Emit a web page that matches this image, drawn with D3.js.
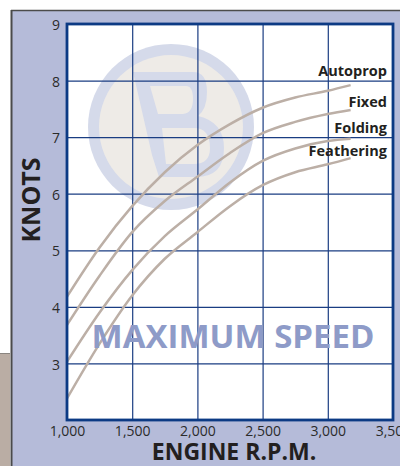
<!DOCTYPE html>
<html>
<head>
<meta charset="utf-8">
<script src="https://cdn.jsdelivr.net/npm/d3@7"></script>
<style>
  body { margin: 0; background: #fff; }
  text { font-family: "Open Sans", "Noto Sans", sans-serif; }
</style>
</head>
<body>
<div id="chart"></div>
<script>
// data
const rpm = [1000, 1250, 1500, 1750, 2000, 2250, 2500, 2750, 3000, 3175];
const autoprop = [4.18, 5.05, 5.78, 6.38, 6.86, 7.23, 7.52, 7.70, 7.82, 7.92];
const fixed = [3.68, 4.55, 5.32, 5.87, 6.30, 6.72, 7.07, 7.27, 7.41, 7.48];
const folding = [3.03, 3.90, 4.65, 5.25, 5.72, 6.20, 6.58, 6.80, 6.93, 6.97];
const feathering = [2.38, 3.35, 4.20, 4.85, 5.32, 5.78, 6.15, 6.38, 6.52, 6.63];
const seriesNames = ["Autoprop", "Fixed", "Folding", "Feathering"];
const xTicks = [1000, 1500, 2000, 2500, 3000, 3500];
const yTicks = [3, 4, 5, 6, 7, 8, 9];

const series = [autoprop, fixed, folding, feathering];

const W = 400, H = 466;
const margin = { top: 24, right: 7, bottom: 46, left: 67 },
  width = W - margin.left - margin.right,
  height = H - margin.top - margin.bottom;

const svg = d3.select("#chart")
  .append("svg")
  .attr("width", W)
  .attr("height", H);

// page frame
svg.append("rect").attr("x", 11).attr("y", 10).attr("width", W - 11).attr("height", H - 10)
  .attr("fill", "#b5bbd9");
svg.append("line").attr("x1", 11).attr("x2", W).attr("y1", 10.5).attr("y2", 10.5)
  .attr("stroke", "#4b4b4b").attr("stroke-width", 1.5);
svg.append("line").attr("x1", 11.5).attr("x2", 11.5).attr("y1", 10).attr("y2", H)
  .attr("stroke", "#4b4b4b").attr("stroke-width", 2);
svg.append("rect").attr("x", 0).attr("y", 354).attr("width", 10).attr("height", H - 354)
  .attr("fill", "#baada4");
svg.append("line").attr("x1", 0).attr("x2", 10).attr("y1", 353.5).attr("y2", 353.5)
  .attr("stroke", "#8a8580").attr("stroke-width", 1);

const chart = svg.append("g")
  .attr("transform", `translate(${margin.left},${margin.top})`);

const x = d3.scaleLinear().domain([1000, 3500]).range([0, width]);
const y = d3.scaleLinear().domain([2, 9]).range([height, 0]);

chart.append("rect").attr("width", width).attr("height", height).attr("fill", "#fff");

// watermark logo
const logo = chart.append("g").attr("transform", `translate(${171 - margin.left},${127 - margin.top})`);
logo.append("circle").attr("r", 83).attr("fill", "#d5daea");
logo.append("circle").attr("r", 72).attr("fill", "#eeebe7");
logo.append("path")
  .attr("fill", "#d5daea")
  .attr("fill-rule", "evenodd")
  .attr("d", "M-38,-55 L22,-55 Q36,-55 36,-35 Q36,-18 27,-11 Q53,-5 53,21 Q53,50 25,50 L-12,50 L-19,28 Z" +
    " M-21,-41 L15,-41 Q22,-41 22,-28 Q22,-14 12,-13 L-13,-13 Z" +
    " M-9,1 L23,1 Q39,1 39,21 Q39,37 23,37 L-5,37 Z");

// gridlines
chart.append("g")
  .attr("transform", `translate(0,${height})`)
  .call(d3.axisBottom(x).tickValues(xTicks.slice(1, -1)).tickSize(-height).tickFormat(""))
  .call(g => g.select(".domain").remove())
  .call(g => g.selectAll("line").attr("stroke", "#1a3d82").attr("stroke-width", 1.2));

chart.append("g")
  .call(d3.axisLeft(y).tickValues(yTicks.slice(0, -1)).tickSize(-width).tickFormat(""))
  .call(g => g.select(".domain").remove())
  .call(g => g.selectAll("line").attr("stroke", "#1a3d82").attr("stroke-width", 1.2));

// curves
const line = d3.line()
  .x((d, i) => x(rpm[i]))
  .y(d => y(d))
  .curve(d3.curveMonotoneX);

chart.selectAll(".curve")
  .data(series)
  .join("path")
  .attr("class", "curve")
  .attr("d", line)
  .attr("fill", "none")
  .attr("stroke", "#bcafa6")
  .attr("stroke-width", 2.5);

// plot border
chart.append("rect").attr("width", width).attr("height", height)
  .attr("fill", "none").attr("stroke", "#0c3a84").attr("stroke-width", 2.8);

// tick labels
const xAxis = chart.append("g")
  .attr("transform", `translate(0,${height})`)
  .call(d3.axisBottom(x).tickValues(xTicks).tickSize(0).tickPadding(6).tickFormat(d3.format(",")));
xAxis.select(".domain").remove();
xAxis.selectAll("text").attr("font-family", "Lato, sans-serif").attr("font-size", 14)
  .attr("fill", "#2b2b2b");

const yAxis = chart.append("g")
  .call(d3.axisLeft(y).tickValues(yTicks).tickSize(0).tickPadding(7).tickFormat(d3.format("d")));
yAxis.select(".domain").remove();
yAxis.selectAll("text").attr("font-family", "Lato, sans-serif").attr("font-size", 14)
  .attr("fill", "#2b2b2b").attr("dy", "0.4em");

// series labels
const labelY = [76, 107, 133, 156];
chart.selectAll(".lab")
  .data(seriesNames)
  .join("text")
  .attr("class", "lab")
  .attr("x", 387 - margin.left)
  .attr("y", (d, i) => labelY[i] - margin.top)
  .attr("text-anchor", "end")
  .attr("font-size", 14.5)
  .attr("font-weight", 700)
  .attr("fill", "#231f20")
  .text(d => d);

// big label
chart.append("text")
  .attr("x", 233 - margin.left)
  .attr("y", 348 - margin.top)
  .attr("text-anchor", "middle")
  .attr("font-size", 33)
  .attr("font-weight", 700)
  .attr("fill", "#8e9bc8")
  .text("MAXIMUM SPEED");

// axis titles
svg.append("text")
  .attr("x", 234)
  .attr("y", 460)
  .attr("text-anchor", "middle")
  .attr("font-size", 23)
  .attr("font-weight", 700)
  .attr("fill", "#231f20")
  .text("ENGINE R.P.M.");

svg.append("text")
  .attr("transform", "translate(40,200) rotate(-90)")
  .attr("text-anchor", "middle")
  .attr("font-size", 25)
  .attr("font-weight", 700)
  .attr("fill", "#231f20")
  .text("KNOTS");
</script>
</body>
</html>
